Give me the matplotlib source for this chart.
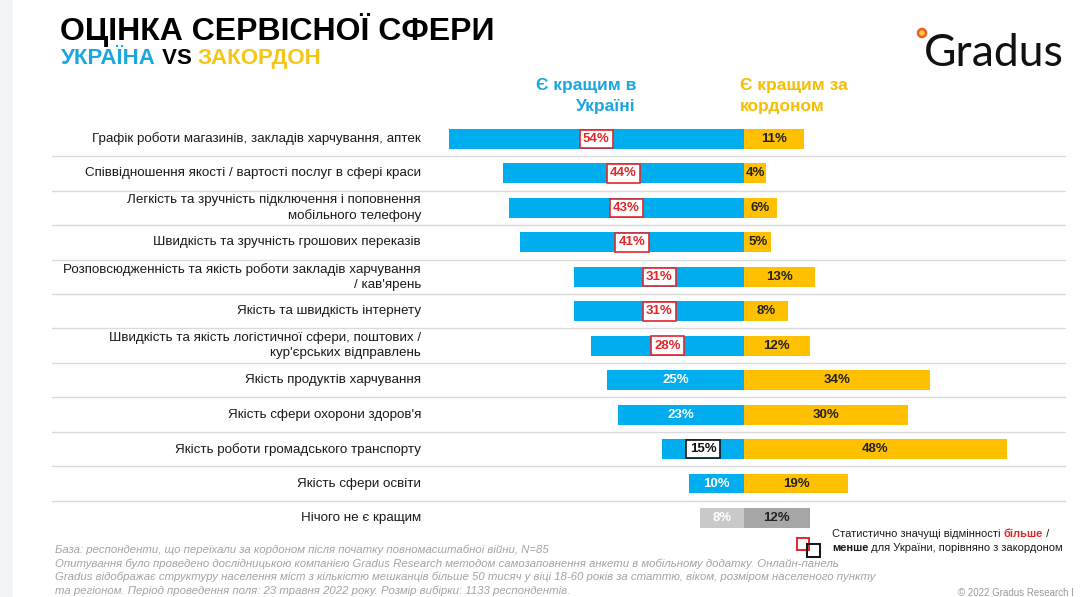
import matplotlib
matplotlib.use("Agg")
import matplotlib.pyplot as plt
from matplotlib.patches import Rectangle, Ellipse

plt.rcParams['font.family'] = ['Liberation Sans', 'DejaVu Sans']

# ---- data ----
categories = [
    "Графік роботи магазинів, закладів харчування, аптек",
    "Співвідношення якості / вартості послуг в сфері краси",
    "Легкість та зручність підключення і поповнення\nмобільного телефону",
    "Швидкість та зручність грошових переказів",
    "Розповсюдженність та якість роботи закладів харчування\n/ кав'ярень",
    "Якість та швидкість інтернету",
    "Швидкість та якість логістичної сфери, поштових /\nкур'єрських відправлень",
    "Якість продуктів харчування",
    "Якість сфери охорони здоров'я",
    "Якість роботи громадського транспорту",
    "Якість сфери освіти",
    "Нічого не є кращим",
]
ukraine = [54, 44, 43, 41, 31, 31, 28, 25, 23, 15, 10, 8]
abroad = [11, 4, 6, 5, 13, 8, 12, 34, 30, 48, 19, 12]
# significance marker for Ukraine value: 'more', 'less' or ''
signif = ['more', 'more', 'more', 'more', 'more', 'more', 'more',
          '', '', 'less', '', '']

BLUE = '#00AEEF'
YELLOW = '#FFC000'
RED = '#E3262B'
GRAY_L = '#C9C9C9'
GRAY_D = '#A6A6A6'

W, H = 1080, 597
fig = plt.figure(figsize=(W / 100, H / 100), dpi=100)
fig.patch.set_facecolor('white')


def fx(px):
    return px / W


def fy(py):
    return 1 - py / H


# light strip on the left edge
fig.add_artist(Rectangle((0, 0), fx(13), 1, transform=fig.transFigure,
                         facecolor='#F1F3F6', edgecolor='none'))

# ---- bar axes ----
scale = 5.47  # px per percent
x0 = 744
ax_l, ax_r = 52, 1066
row_h = 34.45
top = 139 - row_h / 2
n = len(categories)
ax = fig.add_axes([fx(ax_l), fy(top + n * row_h), fx(ax_r - ax_l), n * row_h / H])
ax.set_xlim(-(x0 - ax_l) / scale, (ax_r - x0) / scale)
ax.set_ylim(n - 0.5, -0.5)
ax.axis('off')

ypos = list(range(n))
last = n - 1
left_colors = [BLUE] * (n - 1) + [GRAY_L]
right_colors = [YELLOW] * (n - 1) + [GRAY_D]
ax.barh(ypos, [-v for v in ukraine], height=0.58, color=left_colors, zorder=2)
ax.barh(ypos, abroad, height=0.58, color=right_colors, zorder=2)

for i in range(n - 1):
    ax.axhline(i + 0.5, color='#DADADA', lw=1, zorder=1)

label_x = (421 - x0) / scale
for i, cat in enumerate(categories):
    ax.text(label_x, i, cat, ha='right', va='center', fontsize=9.6,
            color='#1a1a1a', linespacing=1.3)

for i, (u, a, s) in enumerate(zip(ukraine, abroad, signif)):
    if s == 'more':
        ax.text(-u / 2, i, f"{u}%", ha='center', va='center', fontsize=9.5,
                fontweight='bold', color=RED, zorder=3,
                bbox=dict(boxstyle='square,pad=0.25', facecolor='white',
                          edgecolor=RED, lw=1.2))
    elif s == 'less':
        ax.text(-u / 2, i, f"{u}%", ha='center', va='center', fontsize=9.5,
                fontweight='bold', color='#111111', zorder=3,
                bbox=dict(boxstyle='square,pad=0.25', facecolor='white',
                          edgecolor='#111111', lw=1.2))
    else:
        ax.text(-u / 2, i, f"{u}%", ha='center', va='center', fontsize=9.5,
                fontweight='bold', color='white', zorder=3)
    ax.text(a / 2, i, f"{a}%", ha='center', va='center', fontsize=9.5,
            fontweight='bold', color='#222222', zorder=3)

# ---- headers ----
fig.text(fx(636), fy(96), "Є кращим в\nУкраїні", ha='right', va='center',
         fontsize=12.5, fontweight='bold', color='#1AA7E0', linespacing=1.45)
fig.text(fx(740), fy(96), "Є кращим за\nкордоном", ha='left', va='center',
         fontsize=12.5, fontweight='bold', color='#F5BE00', linespacing=1.45)

renderer = fig.canvas.get_renderer()


def rich_line(x, y, parts, **kw):
    """Draw consecutive text pieces with own color/weight starting at pixel x."""
    cur = x
    for txt, color, weight in parts:
        t = fig.text(fx(cur), fy(y), txt, color=color, fontweight=weight,
                     ha='left', va='baseline', **kw)
        cur += t.get_window_extent(renderer).width
    return cur


# ---- title ----
fig.text(fx(60), fy(40), "ОЦІНКА СЕРВІСНОЇ СФЕРИ", ha='left', va='baseline',
         fontsize=23, fontweight='bold', color='black')
rich_line(61, 64, [("УКРАЇНА", '#1AA7E0', 'bold'), (" VS ", 'black', 'bold'),
                   ("ЗАКОРДОН", '#F5C518', 'bold')], fontsize=16)

# ---- logo ----
fig.add_artist(Ellipse((fx(922), fy(33)), 8 / W, 8 / H, transform=fig.transFigure,
                       facecolor='#FFD23F', edgecolor='#F05A28', lw=1.8))
fig.text(fx(924), fy(66), "Gradus", ha='left', va='baseline', fontsize=32,
         family=['Lato', 'DejaVu Sans'], color='#111111')

# ---- legend ----
fig.add_artist(Rectangle((fx(797), fy(550)), 12 / W, 12 / H, transform=fig.transFigure,
                         facecolor='none', edgecolor=RED, lw=1.4))
fig.add_artist(Rectangle((fx(807), fy(557)), 13 / W, 13 / H, transform=fig.transFigure,
                         facecolor='none', edgecolor='#111111', lw=1.4))
rich_line(832, 537, [("Статистично значущі відмінності ", '#1a1a1a', 'normal'),
                     ("більше", RED, 'bold'), (" /", '#1a1a1a', 'normal')],
          fontsize=8)
rich_line(832, 551, [("менше", '#1a1a1a', 'bold'),
                     (" для України, порівняно з закордоном", '#1a1a1a', 'normal')],
          fontsize=8)

# ---- footnote ----
notes = [
    "База: респонденти, що переїхали за кордоном після початку повномасштабної війни, N=85",
    "Опитування було проведено дослідницькою компанією Gradus Research методом самозаповнення анкети в мобільному додатку. Онлайн-панель",
    "Gradus відображає структуру населення міст з кількістю мешканців більше 50 тисяч у віці 18-60 років за статтю, віком, розміром населеного пункту",
    "та регіоном. Період проведення поля: 23 травня 2022 року. Розмір вибірки: 1133 респондентів.",
]
for k, line in enumerate(notes):
    fig.text(fx(55), fy(553 + k * 13.6), line, ha='left', va='baseline',
             fontsize=8.2, style='italic', color='#A3A3A3')

fig.text(fx(958), fy(596), "© 2022 Gradus Research I", ha='left', va='baseline',
         fontsize=7, color='#9A9A9A')

fig.savefig('out.png', dpi=100)
